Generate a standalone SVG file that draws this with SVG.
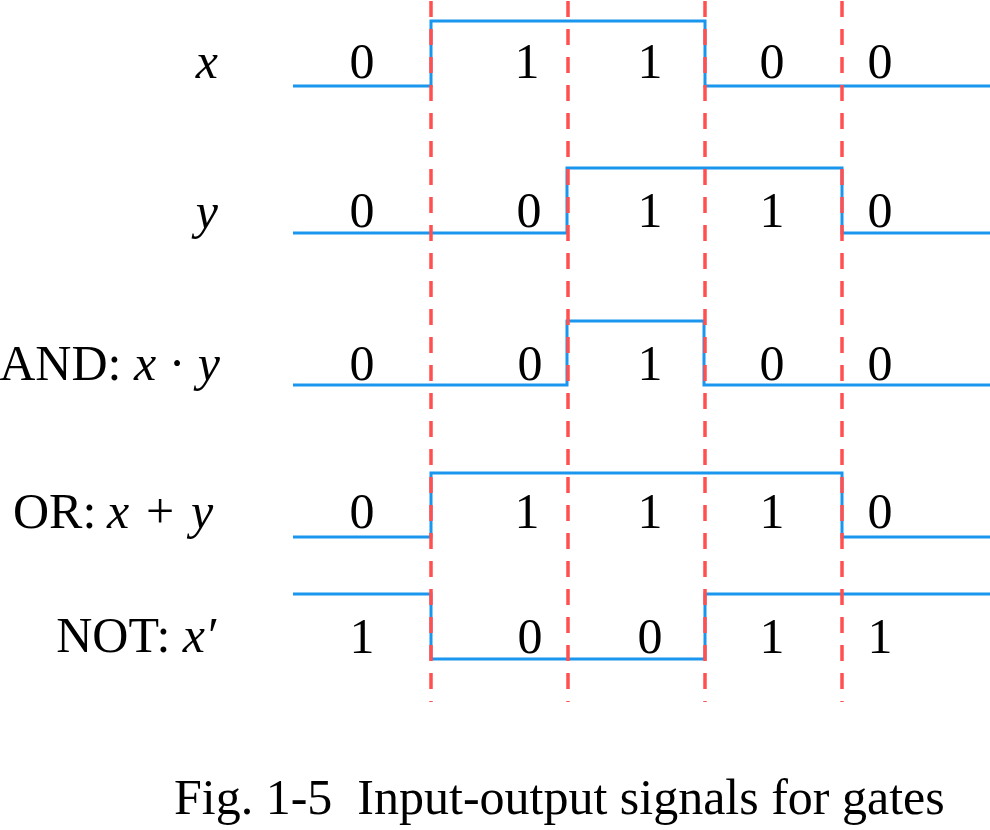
<svg xmlns="http://www.w3.org/2000/svg" width="990" height="830" viewBox="0 0 990 830">
<style>
text{font-family:"Liberation Serif","Times New Roman",serif;fill:#000}
.d{font-size:50px;text-anchor:middle}
.l{font-size:50px;text-anchor:end}
.i{font-style:italic}
.w{fill:none;stroke:#1a96ee;stroke-width:3}
.g{stroke:#ff4f4f;stroke-width:3.5;stroke-dasharray:16 12}
</style>
<rect width="990" height="830" fill="#fff"/>
<g id="labels">
<text class="l" x="218" y="78"><tspan class="i">x</tspan></text>
<text class="l" x="218" y="228"><tspan class="i">y</tspan></text>
<text class="l" x="220" y="380">AND: <tspan class="i">x</tspan> · <tspan class="i">y</tspan></text>
<text style="font-size:50px" x="13" y="528">OR:<tspan class="i" x="107">x</tspan><tspan x="146">+</tspan><tspan class="i" x="191">y</tspan></text>
<text class="l" x="216" y="652">NOT: <tspan class="i">x′</tspan></text>
</g>
<g id="row-x">
<path class="w" d="M293,86 H431 V21 H705 V86 H990"/>
<text class="d" x="362" y="78">0</text><text class="d" x="527" y="78">1</text><text class="d" x="650" y="78">1</text><text class="d" x="772" y="78">0</text><text class="d" x="880" y="78">0</text>
</g>
<g id="row-y">
<path class="w" d="M293,233 H567 V168 H842 V233 H990"/>
<text class="d" x="362" y="227">0</text><text class="d" x="529" y="227">0</text><text class="d" x="650" y="227">1</text><text class="d" x="772" y="227">1</text><text class="d" x="880" y="227">0</text>
</g>
<g id="row-and">
<path class="w" d="M293,385 H567 V321 H704 V385 H990"/>
<text class="d" x="362" y="380">0</text><text class="d" x="530" y="380">0</text><text class="d" x="650" y="380">1</text><text class="d" x="772" y="380">0</text><text class="d" x="880" y="380">0</text>
</g>
<g id="row-or">
<path class="w" d="M293,537 H431 V473 H842 V537 H990"/>
<text class="d" x="362" y="528">0</text><text class="d" x="527" y="528">1</text><text class="d" x="650" y="528">1</text><text class="d" x="772" y="528">1</text><text class="d" x="880" y="528">0</text>
</g>
<g id="row-not">
<path class="w" d="M293,594 H431 V659 H705 V594 H990"/>
<text class="d" x="362" y="653">1</text><text class="d" x="530" y="653">0</text><text class="d" x="650" y="653">0</text><text class="d" x="772" y="653">1</text><text class="d" x="880" y="653">1</text>
</g>
<g id="connectors">
<line class="g" x1="431" y1="1" x2="431" y2="702"/>
<line class="g" x1="568" y1="1" x2="568" y2="702"/>
<line class="g" x1="705" y1="1" x2="705" y2="702"/>
<line class="g" x1="842" y1="1" x2="842" y2="702"/>
</g>
<text id="caption" x="174" y="814" style="font-size:50px;white-space:pre" xml:space="preserve">Fig. 1-5  Input-output signals for gates</text>
</svg>
